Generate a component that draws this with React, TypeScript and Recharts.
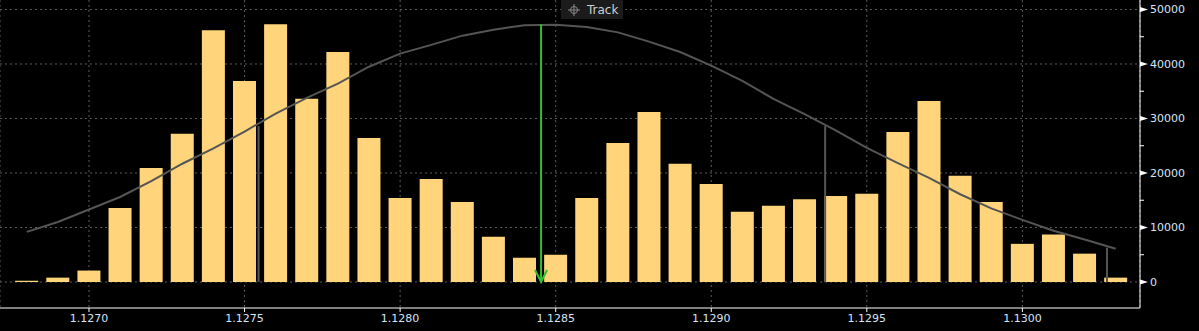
import React from 'react'
import { ComposedChart, Bar, Line, XAxis, YAxis, CartesianGrid, ReferenceLine } from 'recharts'

// price bins (bin width 0.0001)
const prices = [
  1.1268, 1.1269, 1.127, 1.1271, 1.1272, 1.1273, 1.1274, 1.1275, 1.1276, 1.1277, 1.1278, 1.1279,
  1.128, 1.1281, 1.1282, 1.1283, 1.1284, 1.1285, 1.1286, 1.1287, 1.1288, 1.1289, 1.129, 1.1291,
  1.1292, 1.1293, 1.1294, 1.1295, 1.1296, 1.1297, 1.1298, 1.1299, 1.13, 1.1301, 1.1302, 1.1303,
]

// traded volume per bin
const volumes = [
  250, 800, 2100, 13600, 20900, 27200, 46200, 36900, 47300, 33600, 42200, 26400,
  15400, 18900, 14700, 8300, 4450, 5000, 15400, 25500, 31200, 21700, 18000, 12900,
  14000, 15200, 15800, 16200, 27500, 33200, 19500, 14700, 7000, 8700, 5200, 800,
]

// fitted distribution curve
const curve = [
  9200, 11000, 13300, 15600, 18500, 21700, 24500, 27600, 30900, 33800, 36400, 39500,
  41900, 43500, 45200, 46300, 47100, 47200, 46800, 45800, 44100, 42200, 39700, 36900,
  33600, 30800, 27800, 24600, 21800, 19100, 16100, 13500, 11400, 9400, 7800, 6100,
]

const xTicks = [1.127, 1.1275, 1.128, 1.1285, 1.129, 1.1295, 1.13]
const yTicks = [0, 5000, 10000, 15000, 20000, 25000, 30000, 35000, 40000, 45000, 50000]
const yGrid = [0, 10000, 20000, 30000, 40000, 50000]

// sigma markers: price and height of the curve there
const sigmaLines = [
  { x: 1.127545, top: 28600 },
  { x: 1.129366, top: 28600 },
  { x: 1.130272, top: 6300 },
]
const meanPrice = 1.128453
const meanTop = 47300

const data = prices.map((p, i) => ({ price: p, volume: volumes[i], curve: curve[i] }))

const YTick = (props: any) => {
  const { x, y, payload } = props
  const v = payload.value
  if (v % 10000 !== 0) {
    return <line x1={x} y1={y} x2={x + 4} y2={y} stroke="#fff" strokeWidth={1} />
  }
  return <g>
    <path d={`M${x} ${y - 2.5} L${x + 8} ${y} L${x} ${y + 2.5} Z`} fill="#fff" />
    <text x={x + 10} y={y} dy="0.355em" fill="#d6e4f5" fontSize={11} fontFamily="DejaVu Sans">{v}</text>
  </g>
}

const Arrow = (props: any) => {
  const { x1, y1, x2, y2 } = props
  const bottom = Math.max(y1, y2)
  const top = Math.min(y1, y2)
  return <g>
    <line x1={x1} y1={top} x2={x1} y2={bottom} stroke="#2fbf2f" strokeWidth={2} />
    <polyline points={`${x1 - 6},${bottom - 12} ${x1},${bottom} ${x1 + 6},${bottom - 12}`} fill="none" stroke="#2fbf2f" strokeWidth={2} />
  </g>
}

const App = () => {
  return <div style={{ position: 'absolute', left: 0, top: 0, width: 1199, height: 331, background: '#000' }}>
    <ComposedChart
      width={1199}
      height={331}
      data={data}
      margin={{ top: 0, right: 0, left: 0, bottom: 0 }}
    >
      <CartesianGrid stroke="#5c5c5c" strokeDasharray="2 3" horizontalValues={yGrid} />
      <XAxis
        dataKey="price"
        type="number"
        domain={[1.126714, 1.130378]}
        allowDataOverflow
        ticks={xTicks}
        tickFormatter={(v: number) => v.toFixed(4)}
        height={23}
        tickSize={4}
        axisLine={{ stroke: '#fff' }}
        tickLine={{ stroke: '#fff' }}
        tick={{ fill: '#d6e4f5', fontSize: 11, fontFamily: 'DejaVu Sans' }}
      />
      <YAxis
        orientation="right"
        type="number"
        domain={[-4770, 51740]}
        allowDataOverflow
        ticks={yTicks}
        width={59}
        tickSize={0}
        tickMargin={0}
        tickLine={false}
        axisLine={{ stroke: '#fff' }}
        tick={<YTick />}
        interval={0}
      />
      <Bar dataKey="volume" fill="#ffd47a" barSize={23} isAnimationActive={false} />
      <Line type="linear" dataKey="curve" stroke="#555" strokeWidth={2} dot={false} activeDot={false} isAnimationActive={false} />
      {sigmaLines.map((s, i) => (
        <ReferenceLine key={i} segment={[{ x: s.x, y: 0 }, { x: s.x, y: s.top }]} stroke="#555" strokeWidth={2} />
      ))}
      <ReferenceLine segment={[{ x: meanPrice, y: 0 }, { x: meanPrice, y: meanTop }]} shape={<Arrow />} />
    </ComposedChart>
    <div style={{
      position: 'absolute', left: 561, top: 0, width: 62, height: 19, background: '#1b1b1b',
      display: 'flex', alignItems: 'center', fontFamily: 'DejaVu Sans', fontSize: 12, color: '#cfcfcf',
    }}>
      <svg width={14} height={14} style={{ marginLeft: 6, marginRight: 6 }}>
        <circle cx={7} cy={7} r={3.5} fill="none" stroke="#8a8a8a" strokeWidth={1} />
        <line x1={7} y1={1} x2={7} y2={13} stroke="#8a8a8a" strokeWidth={1} />
        <line x1={1} y1={7} x2={13} y2={7} stroke="#8a8a8a" strokeWidth={1} />
      </svg>
      <span>Track</span>
    </div>
  </div>
}

export default App
